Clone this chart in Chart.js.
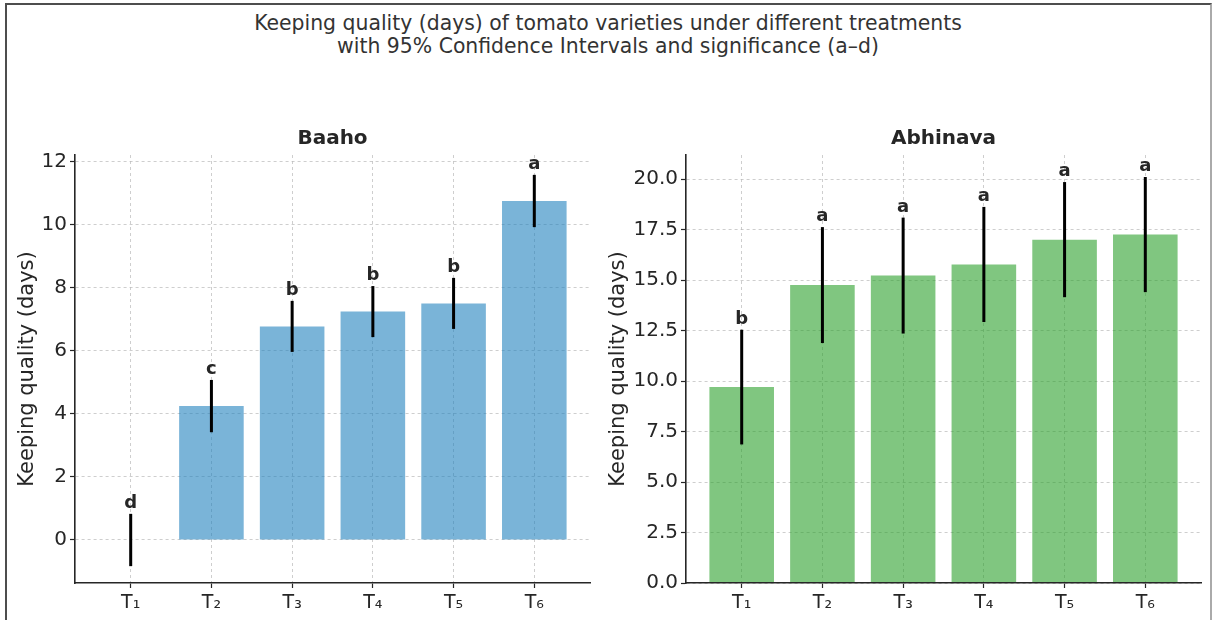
<!DOCTYPE html>
<html>
<head>
<meta charset="utf-8">
<script src="https://cdn.jsdelivr.net/npm/chart.js@4/dist/chart.umd.min.js"></script>
<style>
  html, body { margin: 0; padding: 0; background: #fff; }
  #wrap { position: relative; width: 1212px; height: 620px; overflow: hidden; font-family: "DejaVu Sans", sans-serif; }
  #frame { position: absolute; left: 5px; top: 3px; width: 1203px; height: 660px;
    border-top: 2px solid #4d4d4d; border-left: 2px solid #4d4d4d; border-right: 2px solid #aaa; }
  #title { position: absolute; left: 0; width: 1216px; top: 12px; text-align: center;
    font-size: 20.4px; line-height: 23px; color: #333; }
  canvas { position: absolute; top: 0; }
</style>
</head>
<body>
<div id="wrap">
  <div id="frame"></div>
  <div id="title">Keeping quality (days) of tomato varieties under different treatments<br>with 95% Confidence Intervals and significance (a–d)</div>
  <canvas id="cBaaho" width="606" height="620" style="left:0"></canvas>
  <canvas id="cAbhi" width="606" height="620" style="left:606px"></canvas>
</div>
<script>
// --- data ---
const treatments = ["T₁", "T₂", "T₃", "T₄", "T₅", "T₆"];

const baahoMean = [0, 4.25, 6.78, 7.25, 7.51, 10.76];
const baahoCI = [0.83, 0.83, 0.81, 0.81, 0.81, 0.83];
const baahoSig = ["d", "c", "b", "b", "b", "a"];
const baahoTicks = [0, 2, 4, 6, 8, 10, 12];

const abhiMean = [9.7, 14.75, 15.22, 15.77, 17.0, 17.25];
const abhiCI = [2.84, 2.87, 2.87, 2.85, 2.85, 2.85];
const abhiSig = ["b", "a", "a", "a", "a", "a"];
const abhiTicks = [0, 2.5, 5, 7.5, 10, 12.5, 15, 17.5, 20];

Chart.defaults.font.family = '"DejaVu Sans", sans-serif';
Chart.defaults.color = "#262626";

// subplot title + significance letters
const annotate = {
  id: "annotate",
  afterDraw(chart, args, o) {
    const { ctx, chartArea, scales: { x, y } } = chart;
    ctx.save();
    ctx.fillStyle = "#262626";
    ctx.textAlign = "center";
    ctx.textBaseline = "middle";
    ctx.font = 'bold 20px "DejaVu Sans"';
    ctx.fillText(o.title, (chartArea.left + chartArea.right) / 2, chartArea.top - 16);
    ctx.font = 'bold 18px "DejaVu Sans"';
    ctx.textBaseline = "alphabetic";
    o.letters.forEach((s, i) => {
      ctx.fillText(s, x.getPixelForValue(i), y.getPixelForValue(o.mean[i] + o.ci[i]) - 6);
    });
    ctx.restore();
  }
};

const gridOpts = { color: "rgba(185,185,185,0.7)", lineWidth: 1,
  tickLength: 5, tickColor: "#262626", tickWidth: 1.2, tickBorderDash: [] };

function makeChart(id, title, mean, ci, letters, color, yMin, yMax, yTicks, fmt, axisW, padRight, labelPad) {
  const ctx = document.getElementById(id).getContext("2d");
  return new Chart(ctx, {
    type: "bar",
    data: {
      datasets: [
        { data: mean.map((v, i) => ({ x: i, y: v })), backgroundColor: color,
          borderWidth: 0, grouped: false, barPercentage: 0.8, categoryPercentage: 1, order: 2 },
        { data: mean.map((v, i) => ({ x: i, y: [v - ci[i], v + ci[i]] })), backgroundColor: "#000",
          borderWidth: 0, borderSkipped: false, grouped: false, maxBarThickness: 3,
          barPercentage: 0.8, categoryPercentage: 1, order: 1 }
      ]
    },
    options: {
      responsive: false,
      animation: false,
      layout: { padding: { top: 155, right: padRight, bottom: 0, left: 0 } },
      plugins: {
        legend: { display: false },
        tooltip: { enabled: false },
        annotate: { title, mean, ci, letters }
      },
      scales: {
        x: {
          type: "linear", min: -0.69, max: 5.69, offset: false,
          afterBuildTicks: (s) => { s.ticks = treatments.map((t, i) => ({ value: i })); },
          afterFit: (s) => { s.height = 37; },
          ticks: { callback: (v) => treatments[v], font: { size: 19 }, padding: 4, maxRotation: 0, autoSkip: false },
          grid: { ...gridOpts, offset: false },
          border: { color: "#262626", width: 1.6, dash: [3, 3], z: 2 }
        },
        y: {
          min: yMin, max: yMax,
          afterBuildTicks: (s) => { s.ticks = yTicks.map((v) => ({ value: v })); },
          afterFit: (s) => { s.width = axisW; },
          ticks: { callback: fmt, font: { size: 20 }, padding: 3 },
          grid: gridOpts,
          border: { color: "#262626", width: 1.6, dash: [3, 3], z: 2 },
          title: { display: true, text: "Keeping quality (days)", font: { size: 21 },
            padding: { top: labelPad, bottom: 0 } }
        }
      }
    },
    plugins: [annotate]
  });
}

makeChart("cBaaho", "Baaho", baahoMean, baahoCI, baahoSig, "rgba(33,130,190,0.6)",
  -1.365, 12.22, baahoTicks, (v) => String(v), 75, 16, 15.4);
makeChart("cAbhi", "Abhinava", abhiMean, abhiCI, abhiSig, "rgba(44,160,44,0.6)",
  0, 21.19, abhiTicks, (v) => v.toFixed(1), 80, 11, 0);
</script>
</body>
</html>
